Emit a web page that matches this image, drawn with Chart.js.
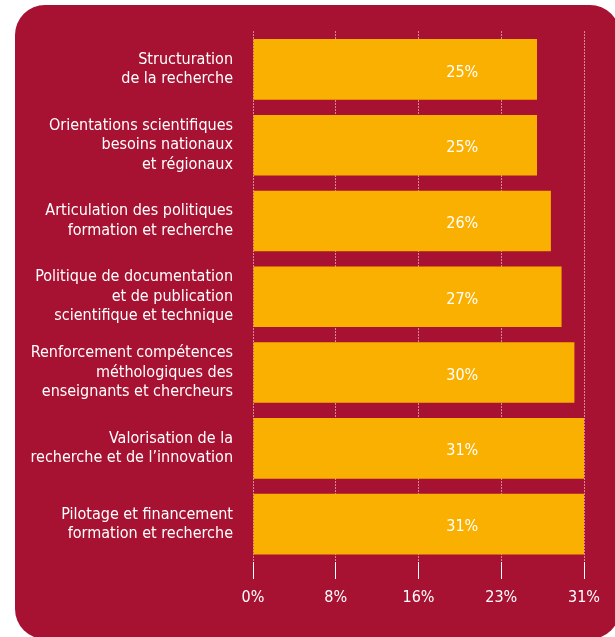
<!DOCTYPE html>
<html>
<head>
<meta charset="utf-8">
<script src="https://cdn.jsdelivr.net/npm/chart.js@4/dist/chart.umd.min.js"></script>
<style>
  html, body { margin: 0; padding: 0; background: #fff; overflow: hidden; }
  #fond {
    position: absolute; left: 15px; top: 5px; width: 605px; height: 634px;
    background: #A81232; border-radius: 30px;
  }
  #zone { position: absolute; left: 0; top: 0; width: 615px; height: 637px; }
</style>
</head>
<body>
<div id="fond"></div>
<div id="zone"><canvas id="graphique"></canvas></div>
<script>
// categories (une ligne par element du tableau)
const categories = [
  ["Structuration", "de la recherche"],
  ["Orientations scientifiques", "besoins nationaux", "et régionaux"],
  ["Articulation des politiques", "formation et recherche"],
  ["Politique de documentation", "et de publication", "scientifique et technique"],
  ["Renforcement compétences", "méthologiques des", "enseignants et chercheurs"],
  ["Valorisation de la", "recherche et de l\u2019innovation"],
  ["Pilotage et financement", "formation et recherche"]
]

// longueur des barres (echelle 0 - 31)
const valeurs = [26.6, 26.6, 27.9, 28.9, 30.1, 31, 31]

// textes affiches dans les barres
const etiquettes = ["25%", "25%", "26%", "27%", "30%", "31%", "31%"]

// graduations de l'axe
const axeMin = 0
const axeMax = 31
const axePas = 7.75
const positionEtiquette = 19.6

const police = "'Liberation Sans Narrow', 'DejaVu Sans Condensed', 'Liberation Sans', sans-serif"

// etiquettes des valeurs dans les barres
const pluginEtiquettes = {
  id: "etiquettes",
  afterDatasetsDraw(chart) {
    const ctx = chart.ctx
    const meta = chart.getDatasetMeta(0)
    const x = chart.scales.x.getPixelForValue(positionEtiquette)
    ctx.save()
    ctx.fillStyle = "#ffffff"
    ctx.font = "16px " + police
    ctx.textAlign = "center"
    ctx.textBaseline = "middle"
    meta.data.forEach((barre, i) => {
      ctx.fillText(etiquettes[i], x, barre.y + 3)
    })
    ctx.restore()
  }
}

let ctx = document.getElementById("graphique").getContext("2d")

let monGraphique = new Chart(ctx, {
  type: "bar",
  data: {
    labels: categories,
    datasets: [{
      data: valeurs,
      backgroundColor: "#FAB000",
      borderWidth: 0,
      barPercentage: 0.8,
      categoryPercentage: 1
    }]
  },
  options: {
    indexAxis: "y",
    responsive: true,
    maintainAspectRatio: false,
    animation: false,
    layout: { padding: { left: 0, right: 31, top: 28, bottom: 0 } },
    plugins: {
      legend: { display: false },
      tooltip: { enabled: false }
    },
    scales: {
      x: {
        min: axeMin,
        max: axeMax,
        z: 1,
        afterFit: (s) => { s.height = 75 },
        afterBuildTicks: (s) => {
          s.ticks = []
          for (let v = axeMin; v <= axeMax + 0.001; v += axePas) s.ticks.push({ value: v })
        },
        ticks: {
          color: "#ffffff",
          font: { family: police, size: 16 },
          padding: 9,
          maxRotation: 0,
          callback: (v) => Math.round(v) + "%"
        },
        grid: {
          color: "#ffffff",
          lineWidth: 1,
          tickLength: 17,
          tickColor: "#ffffff"
        },
        border: { display: false, dash: [1, 2] }
      },
      y: {
        afterFit: (s) => { s.width = 253 },
        ticks: {
          color: "#ffffff",
          font: { family: police, size: 16, lineHeight: 1.22 },
          padding: 12
        },
        grid: { display: false },
        border: { display: false }
      }
    }
  },
  plugins: [pluginEtiquettes]
})
</script>
</body>
</html>
